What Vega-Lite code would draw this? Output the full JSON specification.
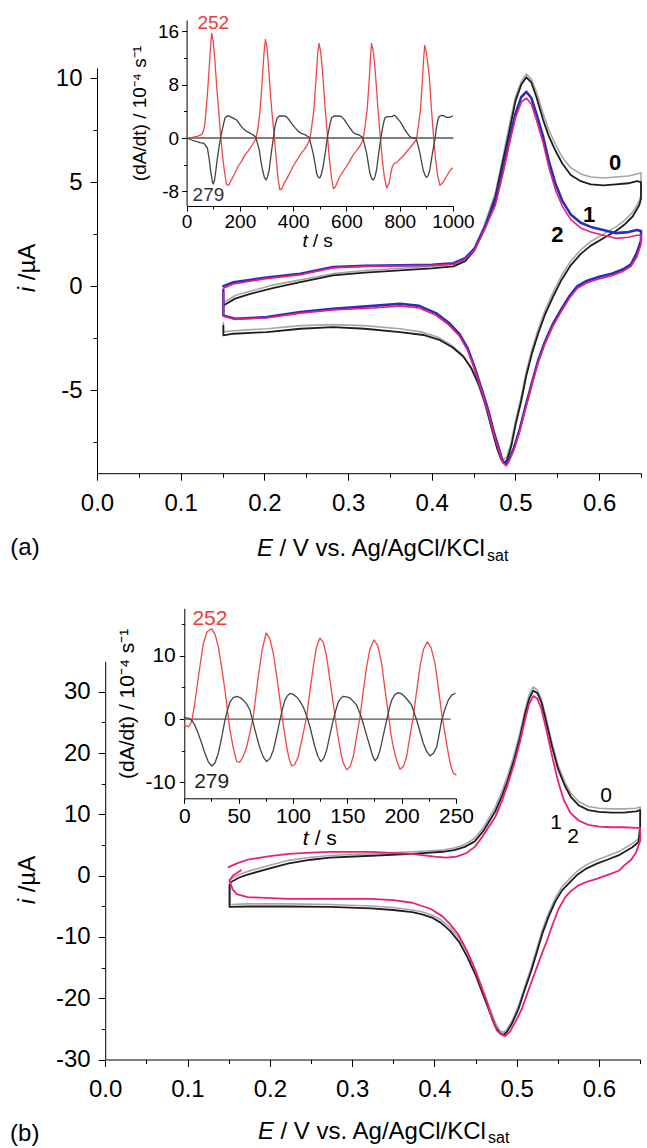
{
"$schema": "https://vega.github.io/schema/vega-lite/v6.json",
"width": 647, "height": 1148, "padding": 0, "autosize": {"type": "none"},
"background": "white",
"config": {"view": {"stroke": null}, "font": "Liberation Sans",
 "axis": {"grid": false, "domainColor": "#000", "tickColor": "#000", "labelColor": "#000", "titleColor": "#000", "labelFlush": false, "labelOverlap": false, "titleFontWeight": "normal", "domainWidth": 1, "tickWidth": 1},
 "line": {"strokeJoin": "round", "strokeCap": "round"}},
"datasets": {
"A0g": [{"E":0.151,"i":-0.8},{"E":0.165,"i":-0.45},{"E":0.183,"i":-0.25},{"E":0.21,"i":0.05},{"E":0.243,"i":0.3},{"E":0.282,"i":0.6},{"E":0.32,"i":0.75},{"E":0.362,"i":0.86},{"E":0.4,"i":0.95},{"E":0.426,"i":1.05},{"E":0.44,"i":1.3},{"E":0.451,"i":1.85},{"E":0.463,"i":2.95},{"E":0.476,"i":4.5},{"E":0.485,"i":6.2},{"E":0.493,"i":7.8},{"E":0.5,"i":9.1},{"E":0.507,"i":9.85},{"E":0.513,"i":10.2},{"E":0.519,"i":9.95},{"E":0.525,"i":9.35},{"E":0.533,"i":8.3},{"E":0.54,"i":7.5},{"E":0.548,"i":6.8},{"E":0.556,"i":6.2},{"E":0.566,"i":5.7},{"E":0.578,"i":5.4},{"E":0.59,"i":5.25},{"E":0.605,"i":5.2},{"E":0.62,"i":5.25},{"E":0.635,"i":5.3},{"E":0.645,"i":5.4},{"E":0.65,"i":5.45},{"E":0.65,"i":4.4},{"E":0.648,"i":4.1},{"E":0.64,"i":3.55},{"E":0.63,"i":3.15},{"E":0.62,"i":2.85},{"E":0.605,"i":2.5},{"E":0.59,"i":2.15},{"E":0.578,"i":1.75},{"E":0.566,"i":1.2},{"E":0.555,"i":0.5},{"E":0.545,"i":-0.3},{"E":0.535,"i":-1.2},{"E":0.527,"i":-2.1},{"E":0.52,"i":-3.0},{"E":0.513,"i":-4.1},{"E":0.507,"i":-5.3},{"E":0.5,"i":-6.5},{"E":0.495,"i":-7.5},{"E":0.49,"i":-8.2},{"E":0.486,"i":-8.35},{"E":0.482,"i":-8.2},{"E":0.476,"i":-7.5},{"E":0.469,"i":-6.5},{"E":0.462,"i":-5.5},{"E":0.454,"i":-4.6},{"E":0.445,"i":-3.8},{"E":0.435,"i":-3.25},{"E":0.422,"i":-2.8},{"E":0.407,"i":-2.45},{"E":0.387,"i":-2.2},{"E":0.362,"i":-2.05},{"E":0.32,"i":-1.9},{"E":0.282,"i":-1.85},{"E":0.243,"i":-1.9},{"E":0.203,"i":-2.05},{"E":0.163,"i":-2.15},{"E":0.151,"i":-2.2},{"E":0.151,"i":-1.75}],
"A0": [{"E":0.151,"i":-0.93},{"E":0.165,"i":-0.6},{"E":0.183,"i":-0.37},{"E":0.21,"i":-0.1},{"E":0.243,"i":0.19},{"E":0.282,"i":0.52},{"E":0.32,"i":0.65},{"E":0.362,"i":0.76},{"E":0.4,"i":0.85},{"E":0.426,"i":0.95},{"E":0.44,"i":1.2},{"E":0.451,"i":1.72},{"E":0.463,"i":2.8},{"E":0.476,"i":4.3},{"E":0.485,"i":6.0},{"E":0.493,"i":7.5},{"E":0.5,"i":8.9},{"E":0.507,"i":9.7},{"E":0.513,"i":10.05},{"E":0.519,"i":9.8},{"E":0.525,"i":9.1},{"E":0.533,"i":8.0},{"E":0.54,"i":7.2},{"E":0.548,"i":6.5},{"E":0.556,"i":5.9},{"E":0.566,"i":5.35},{"E":0.578,"i":5.05},{"E":0.59,"i":4.9},{"E":0.605,"i":4.85},{"E":0.62,"i":4.9},{"E":0.635,"i":4.95},{"E":0.645,"i":5.05},{"E":0.65,"i":5.0},{"E":0.65,"i":4.2},{"E":0.648,"i":3.9},{"E":0.64,"i":3.35},{"E":0.63,"i":2.95},{"E":0.62,"i":2.65},{"E":0.605,"i":2.3},{"E":0.59,"i":1.95},{"E":0.578,"i":1.55},{"E":0.566,"i":1.0},{"E":0.555,"i":0.3},{"E":0.545,"i":-0.5},{"E":0.535,"i":-1.4},{"E":0.527,"i":-2.3},{"E":0.52,"i":-3.2},{"E":0.513,"i":-4.3},{"E":0.507,"i":-5.5},{"E":0.5,"i":-6.7},{"E":0.495,"i":-7.7},{"E":0.49,"i":-8.35},{"E":0.487,"i":-8.5},{"E":0.483,"i":-8.35},{"E":0.478,"i":-7.8},{"E":0.472,"i":-6.9},{"E":0.465,"i":-5.8},{"E":0.457,"i":-4.8},{"E":0.448,"i":-4.0},{"E":0.438,"i":-3.4},{"E":0.425,"i":-2.95},{"E":0.41,"i":-2.6},{"E":0.39,"i":-2.35},{"E":0.362,"i":-2.21},{"E":0.32,"i":-2.05},{"E":0.282,"i":-1.97},{"E":0.243,"i":-2.05},{"E":0.203,"i":-2.21},{"E":0.163,"i":-2.29},{"E":0.151,"i":-2.37},{"E":0.151,"i":-1.9}],
"A1": [{"E":0.151,"i":0.0},{"E":0.163,"i":0.19},{"E":0.2,"i":0.4},{"E":0.243,"i":0.6},{"E":0.282,"i":0.92},{"E":0.32,"i":0.98},{"E":0.362,"i":1.0},{"E":0.4,"i":1.03},{"E":0.426,"i":1.1},{"E":0.44,"i":1.35},{"E":0.451,"i":1.8},{"E":0.463,"i":2.8},{"E":0.476,"i":4.1},{"E":0.485,"i":5.6},{"E":0.493,"i":7.1},{"E":0.5,"i":8.3},{"E":0.507,"i":9.1},{"E":0.513,"i":9.35},{"E":0.519,"i":9.05},{"E":0.525,"i":8.3},{"E":0.533,"i":7.2},{"E":0.54,"i":6.0},{"E":0.548,"i":4.9},{"E":0.556,"i":4.1},{"E":0.566,"i":3.45},{"E":0.578,"i":3.05},{"E":0.59,"i":2.85},{"E":0.605,"i":2.7},{"E":0.62,"i":2.55},{"E":0.635,"i":2.6},{"E":0.645,"i":2.7},{"E":0.65,"i":2.65},{"E":0.65,"i":2.2},{"E":0.645,"i":1.6},{"E":0.638,"i":1.05},{"E":0.628,"i":0.8},{"E":0.615,"i":0.6},{"E":0.6,"i":0.45},{"E":0.585,"i":0.25},{"E":0.574,"i":0.0},{"E":0.565,"i":-0.45},{"E":0.555,"i":-1.1},{"E":0.545,"i":-1.8},{"E":0.535,"i":-2.7},{"E":0.527,"i":-3.6},{"E":0.52,"i":-4.6},{"E":0.512,"i":-5.8},{"E":0.505,"i":-6.9},{"E":0.498,"i":-7.8},{"E":0.492,"i":-8.35},{"E":0.489,"i":-8.55},{"E":0.485,"i":-8.45},{"E":0.48,"i":-7.8},{"E":0.474,"i":-7.0},{"E":0.467,"i":-5.9},{"E":0.46,"i":-5.0},{"E":0.452,"i":-4.0},{"E":0.443,"i":-3.0},{"E":0.433,"i":-2.3},{"E":0.42,"i":-1.75},{"E":0.405,"i":-1.3},{"E":0.385,"i":-0.95},{"E":0.362,"i":-0.85},{"E":0.33,"i":-0.95},{"E":0.282,"i":-1.09},{"E":0.243,"i":-1.25},{"E":0.203,"i":-1.49},{"E":0.165,"i":-1.57},{"E":0.151,"i":-1.41},{"E":0.151,"i":-0.2}],
"A2": [{"E":0.151,"i":-0.1},{"E":0.163,"i":0.1},{"E":0.2,"i":0.35},{"E":0.243,"i":0.55},{"E":0.282,"i":0.88},{"E":0.32,"i":0.95},{"E":0.362,"i":0.98},{"E":0.4,"i":1.0},{"E":0.426,"i":1.05},{"E":0.44,"i":1.3},{"E":0.451,"i":1.72},{"E":0.463,"i":2.7},{"E":0.476,"i":3.9},{"E":0.485,"i":5.4},{"E":0.493,"i":6.9},{"E":0.5,"i":8.1},{"E":0.507,"i":8.85},{"E":0.513,"i":9.05},{"E":0.519,"i":8.75},{"E":0.525,"i":8.0},{"E":0.533,"i":6.9},{"E":0.54,"i":5.7},{"E":0.548,"i":4.6},{"E":0.556,"i":3.85},{"E":0.566,"i":3.2},{"E":0.578,"i":2.8},{"E":0.59,"i":2.6},{"E":0.605,"i":2.45},{"E":0.62,"i":2.3},{"E":0.635,"i":2.35},{"E":0.645,"i":2.45},{"E":0.65,"i":2.45},{"E":0.65,"i":2.0},{"E":0.645,"i":1.4},{"E":0.638,"i":0.95},{"E":0.628,"i":0.7},{"E":0.615,"i":0.5},{"E":0.6,"i":0.35},{"E":0.585,"i":0.15},{"E":0.574,"i":-0.1},{"E":0.565,"i":-0.55},{"E":0.555,"i":-1.2},{"E":0.545,"i":-1.9},{"E":0.535,"i":-2.8},{"E":0.527,"i":-3.7},{"E":0.52,"i":-4.7},{"E":0.512,"i":-5.9},{"E":0.505,"i":-7.0},{"E":0.498,"i":-7.9},{"E":0.492,"i":-8.45},{"E":0.489,"i":-8.65},{"E":0.485,"i":-8.5},{"E":0.48,"i":-7.9},{"E":0.474,"i":-7.1},{"E":0.467,"i":-6.0},{"E":0.46,"i":-5.1},{"E":0.452,"i":-4.1},{"E":0.443,"i":-3.1},{"E":0.433,"i":-2.4},{"E":0.42,"i":-1.85},{"E":0.405,"i":-1.4},{"E":0.385,"i":-1.05},{"E":0.362,"i":-0.95},{"E":0.33,"i":-1.05},{"E":0.282,"i":-1.15},{"E":0.243,"i":-1.3},{"E":0.203,"i":-1.52},{"E":0.165,"i":-1.6},{"E":0.151,"i":-1.45},{"E":0.151,"i":-0.3}],
"B0g": [{"E":0.152,"i":-0.6},{"E":0.163,"i":0.2},{"E":0.173,"i":0.7},{"E":0.2,"i":1.7},{"E":0.223,"i":2.5},{"E":0.25,"i":3.0},{"E":0.273,"i":3.3},{"E":0.323,"i":3.6},{"E":0.373,"i":3.9},{"E":0.41,"i":4.2},{"E":0.424,"i":4.5},{"E":0.437,"i":5.1},{"E":0.449,"i":6.1},{"E":0.46,"i":8.0},{"E":0.474,"i":11.2},{"E":0.482,"i":13.8},{"E":0.489,"i":16.3},{"E":0.497,"i":19.8},{"E":0.504,"i":23.4},{"E":0.51,"i":27.0},{"E":0.515,"i":29.5},{"E":0.52,"i":30.8},{"E":0.525,"i":30.3},{"E":0.53,"i":28.8},{"E":0.536,"i":25.6},{"E":0.543,"i":21.6},{"E":0.55,"i":18.1},{"E":0.558,"i":15.4},{"E":0.566,"i":13.4},{"E":0.575,"i":12.1},{"E":0.587,"i":11.3},{"E":0.6,"i":11.0},{"E":0.615,"i":10.9},{"E":0.63,"i":10.9},{"E":0.645,"i":11.0},{"E":0.65,"i":11.2},{"E":0.65,"i":8.5},{"E":0.648,"i":6.0},{"E":0.64,"i":5.2},{"E":0.625,"i":4.0},{"E":0.61,"i":3.2},{"E":0.598,"i":2.6},{"E":0.585,"i":1.8},{"E":0.574,"i":0.8},{"E":0.565,"i":-0.4},{"E":0.555,"i":-1.8},{"E":0.547,"i":-3.6},{"E":0.539,"i":-6.0},{"E":0.531,"i":-8.9},{"E":0.524,"i":-12.1},{"E":0.517,"i":-15.2},{"E":0.509,"i":-18.4},{"E":0.502,"i":-21.3},{"E":0.494,"i":-23.8},{"E":0.488,"i":-25.1},{"E":0.484,"i":-25.6},{"E":0.479,"i":-25.2},{"E":0.474,"i":-24.0},{"E":0.467,"i":-21.5},{"E":0.459,"i":-18.6},{"E":0.45,"i":-15.4},{"E":0.44,"i":-12.6},{"E":0.43,"i":-10.2},{"E":0.419,"i":-8.5},{"E":0.408,"i":-7.2},{"E":0.398,"i":-6.5},{"E":0.385,"i":-5.9},{"E":0.373,"i":-5.6},{"E":0.35,"i":-5.2},{"E":0.323,"i":-4.95},{"E":0.273,"i":-4.7},{"E":0.223,"i":-4.6},{"E":0.173,"i":-4.6},{"E":0.152,"i":-4.7},{"E":0.152,"i":-1.2}],
"B0": [{"E":0.153,"i":-1.04},{"E":0.163,"i":-0.3},{"E":0.173,"i":0.18},{"E":0.2,"i":1.2},{"E":0.223,"i":2.0},{"E":0.25,"i":2.6},{"E":0.273,"i":2.94},{"E":0.323,"i":3.25},{"E":0.373,"i":3.56},{"E":0.41,"i":3.9},{"E":0.424,"i":4.17},{"E":0.437,"i":4.7},{"E":0.449,"i":5.6},{"E":0.46,"i":7.4},{"E":0.474,"i":10.5},{"E":0.482,"i":13.0},{"E":0.489,"i":15.5},{"E":0.497,"i":19.0},{"E":0.504,"i":22.6},{"E":0.51,"i":26.3},{"E":0.515,"i":28.8},{"E":0.52,"i":30.2},{"E":0.525,"i":29.8},{"E":0.53,"i":28.3},{"E":0.536,"i":25.0},{"E":0.543,"i":21.0},{"E":0.55,"i":17.5},{"E":0.558,"i":14.8},{"E":0.566,"i":12.8},{"E":0.575,"i":11.5},{"E":0.587,"i":10.7},{"E":0.6,"i":10.4},{"E":0.615,"i":10.3},{"E":0.63,"i":10.3},{"E":0.645,"i":10.5},{"E":0.65,"i":10.7},{"E":0.65,"i":8.0},{"E":0.648,"i":5.5},{"E":0.64,"i":4.6},{"E":0.625,"i":3.4},{"E":0.61,"i":2.6},{"E":0.598,"i":2.0},{"E":0.585,"i":1.2},{"E":0.574,"i":0.2},{"E":0.565,"i":-1.0},{"E":0.555,"i":-2.4},{"E":0.547,"i":-4.2},{"E":0.539,"i":-6.6},{"E":0.531,"i":-9.5},{"E":0.524,"i":-12.7},{"E":0.517,"i":-15.8},{"E":0.509,"i":-18.9},{"E":0.502,"i":-21.8},{"E":0.494,"i":-24.2},{"E":0.488,"i":-25.5},{"E":0.484,"i":-26.0},{"E":0.479,"i":-25.6},{"E":0.474,"i":-24.6},{"E":0.467,"i":-22.2},{"E":0.459,"i":-19.4},{"E":0.45,"i":-16.2},{"E":0.44,"i":-13.3},{"E":0.43,"i":-10.8},{"E":0.419,"i":-9.0},{"E":0.408,"i":-7.7},{"E":0.398,"i":-6.9},{"E":0.385,"i":-6.3},{"E":0.373,"i":-5.95},{"E":0.35,"i":-5.6},{"E":0.323,"i":-5.34},{"E":0.273,"i":-5.1},{"E":0.223,"i":-5.03},{"E":0.173,"i":-5.03},{"E":0.151,"i":-5.1},{"E":0.151,"i":-1.5}],
"B2": [{"E":0.15,"i":1.4},{"E":0.16,"i":2.0},{"E":0.173,"i":2.6},{"E":0.2,"i":3.2},{"E":0.223,"i":3.56},{"E":0.25,"i":3.75},{"E":0.273,"i":3.87},{"E":0.323,"i":3.87},{"E":0.373,"i":3.56},{"E":0.4,"i":3.1},{"E":0.414,"i":2.94},{"E":0.427,"i":3.1},{"E":0.439,"i":3.7},{"E":0.449,"i":4.7},{"E":0.459,"i":6.5},{"E":0.474,"i":9.6},{"E":0.482,"i":12.2},{"E":0.489,"i":14.9},{"E":0.497,"i":18.3},{"E":0.504,"i":21.9},{"E":0.51,"i":25.4},{"E":0.515,"i":28.0},{"E":0.52,"i":29.3},{"E":0.525,"i":28.9},{"E":0.53,"i":27.2},{"E":0.536,"i":23.8},{"E":0.543,"i":19.5},{"E":0.55,"i":15.5},{"E":0.557,"i":12.4},{"E":0.565,"i":10.3},{"E":0.575,"i":9.0},{"E":0.587,"i":8.3},{"E":0.6,"i":8.0},{"E":0.615,"i":7.9},{"E":0.63,"i":7.9},{"E":0.645,"i":7.8},{"E":0.65,"i":7.8},{"E":0.65,"i":5.7},{"E":0.645,"i":3.8},{"E":0.639,"i":2.6},{"E":0.63,"i":1.6},{"E":0.624,"i":0.8},{"E":0.61,"i":0.1},{"E":0.599,"i":-0.43},{"E":0.585,"i":-1.0},{"E":0.574,"i":-1.66},{"E":0.566,"i":-2.5},{"E":0.559,"i":-3.5},{"E":0.551,"i":-5.4},{"E":0.544,"i":-7.8},{"E":0.537,"i":-10.5},{"E":0.529,"i":-13.3},{"E":0.521,"i":-16.2},{"E":0.514,"i":-18.8},{"E":0.506,"i":-21.8},{"E":0.499,"i":-23.7},{"E":0.492,"i":-25.4},{"E":0.486,"i":-26.2},{"E":0.481,"i":-25.9},{"E":0.476,"i":-25.3},{"E":0.47,"i":-23.4},{"E":0.464,"i":-20.7},{"E":0.456,"i":-17.8},{"E":0.449,"i":-15.2},{"E":0.44,"i":-12.4},{"E":0.429,"i":-9.6},{"E":0.419,"i":-7.9},{"E":0.409,"i":-6.56},{"E":0.395,"i":-5.4},{"E":0.373,"i":-4.42},{"E":0.35,"i":-4.0},{"E":0.323,"i":-3.8},{"E":0.273,"i":-3.8},{"E":0.223,"i":-3.8},{"E":0.173,"i":-3.5},{"E":0.16,"i":-3.0},{"E":0.155,"i":-2.27},{"E":0.151,"i":-0.8},{"E":0.155,"i":0.0},{"E":0.165,"i":0.9}],
"IAr": [{"t":0,"v":0},{"t":20,"v":0.1},{"t":40,"v":0.25},{"t":56,"v":0.5},{"t":63,"v":1.0},{"t":69,"v":2.2},{"t":75,"v":5.0},{"t":81,"v":8.2},{"t":88,"v":12.5},{"t":94,"v":15.7},{"t":100,"v":14.5},{"t":106,"v":11.7},{"t":114,"v":7.2},{"t":122,"v":3.2},{"t":128,"v":0.2},{"t":135,"v":-2.7},{"t":142,"v":-5.0},{"t":150,"v":-7.0},{"t":158,"v":-7.1},{"t":169,"v":-6.2},{"t":180,"v":-5.4},{"t":194,"v":-4.2},{"t":206,"v":-3.5},{"t":219,"v":-2.5},{"t":232,"v":-1.9},{"t":244,"v":-1.2},{"t":252,"v":-0.7},{"t":260,"v":-0.1},{"t":268,"v":1.5},{"t":275,"v":3.8},{"t":283,"v":8.0},{"t":290,"v":12.5},{"t":296,"v":14.8},{"t":302,"v":13.5},{"t":308,"v":10.5},{"t":313,"v":7.5},{"t":320,"v":4.0},{"t":328,"v":0.7},{"t":336,"v":-3.0},{"t":343,"v":-6.0},{"t":350,"v":-7.8},{"t":358,"v":-7.6},{"t":366,"v":-6.8},{"t":375,"v":-6.2},{"t":388,"v":-5.2},{"t":400,"v":-4.2},{"t":416,"v":-3.2},{"t":432,"v":-2.2},{"t":442,"v":-1.7},{"t":451,"v":-1.2},{"t":458,"v":-0.6},{"t":463,"v":-0.1},{"t":470,"v":1.8},{"t":478,"v":4.3},{"t":486,"v":9.0},{"t":492,"v":12.6},{"t":497,"v":14.2},{"t":503,"v":13.0},{"t":508,"v":11.0},{"t":513,"v":8.5},{"t":520,"v":4.5},{"t":528,"v":0.7},{"t":536,"v":-3.2},{"t":544,"v":-6.0},{"t":551,"v":-7.6},{"t":558,"v":-7.4},{"t":566,"v":-6.6},{"t":576,"v":-5.7},{"t":588,"v":-5.0},{"t":601,"v":-4.2},{"t":613,"v":-3.4},{"t":626,"v":-2.5},{"t":638,"v":-1.9},{"t":651,"v":-1.2},{"t":658,"v":-0.6},{"t":663,"v":-0.1},{"t":670,"v":1.8},{"t":678,"v":4.3},{"t":686,"v":9.0},{"t":690,"v":12.0},{"t":694,"v":14.2},{"t":700,"v":13.2},{"t":706,"v":11.0},{"t":711,"v":8.5},{"t":718,"v":4.5},{"t":726,"v":0.7},{"t":734,"v":-3.0},{"t":742,"v":-5.8},{"t":751,"v":-7.5},{"t":760,"v":-6.8},{"t":766,"v":-5.4},{"t":773,"v":-4.2},{"t":780,"v":-3.8},{"t":788,"v":-3.7},{"t":800,"v":-3.2},{"t":813,"v":-2.7},{"t":825,"v":-2.1},{"t":838,"v":-1.5},{"t":850,"v":-0.9},{"t":863,"v":-0.2},{"t":870,"v":1.8},{"t":878,"v":4.3},{"t":885,"v":8.5},{"t":890,"v":12.0},{"t":894,"v":13.9},{"t":900,"v":12.8},{"t":906,"v":11.0},{"t":911,"v":9.2},{"t":918,"v":5.0},{"t":926,"v":0.7},{"t":934,"v":-3.0},{"t":942,"v":-5.5},{"t":951,"v":-7.1},{"t":960,"v":-6.8},{"t":968,"v":-6.3},{"t":976,"v":-5.7},{"t":987,"v":-5.0},{"t":998,"v":-4.5}],
"IAk": [{"t":0,"v":0},{"t":20,"v":-0.3},{"t":50,"v":-0.7},{"t":65,"v":-0.8},{"t":78,"v":-1.5},{"t":85,"v":-3.2},{"t":91,"v":-5.2},{"t":97,"v":-6.6},{"t":100,"v":-6.9},{"t":105,"v":-6.3},{"t":110,"v":-4.8},{"t":115,"v":-3.2},{"t":123,"v":-1.0},{"t":131,"v":0.7},{"t":138,"v":2.0},{"t":144,"v":3.0},{"t":152,"v":3.3},{"t":160,"v":3.3},{"t":169,"v":3.1},{"t":178,"v":2.9},{"t":188,"v":2.7},{"t":197,"v":2.2},{"t":206,"v":1.7},{"t":215,"v":1.3},{"t":225,"v":1.0},{"t":235,"v":0.8},{"t":244,"v":0.6},{"t":252,"v":0.4},{"t":260,"v":0.1},{"t":266,"v":-0.8},{"t":273,"v":-1.8},{"t":279,"v":-3.5},{"t":285,"v":-4.8},{"t":292,"v":-5.9},{"t":298,"v":-6.3},{"t":304,"v":-5.8},{"t":310,"v":-4.8},{"t":317,"v":-2.5},{"t":325,"v":-0.2},{"t":332,"v":1.8},{"t":340,"v":3.0},{"t":348,"v":3.3},{"t":356,"v":3.3},{"t":365,"v":3.3},{"t":375,"v":3.2},{"t":385,"v":2.7},{"t":394,"v":2.2},{"t":406,"v":1.6},{"t":419,"v":1.0},{"t":431,"v":0.7},{"t":444,"v":0.5},{"t":452,"v":0.3},{"t":460,"v":0.1},{"t":467,"v":-1.0},{"t":475,"v":-2.3},{"t":482,"v":-3.8},{"t":488,"v":-5.3},{"t":494,"v":-5.9},{"t":500,"v":-6.0},{"t":506,"v":-5.4},{"t":513,"v":-4.2},{"t":522,"v":-1.8},{"t":531,"v":0.7},{"t":538,"v":2.0},{"t":544,"v":3.0},{"t":553,"v":3.3},{"t":563,"v":3.3},{"t":572,"v":3.3},{"t":582,"v":3.2},{"t":591,"v":2.8},{"t":601,"v":2.2},{"t":613,"v":1.5},{"t":626,"v":0.8},{"t":635,"v":0.6},{"t":645,"v":0.5},{"t":653,"v":0.3},{"t":661,"v":0.1},{"t":668,"v":-1.0},{"t":676,"v":-2.3},{"t":682,"v":-3.8},{"t":688,"v":-5.3},{"t":695,"v":-6.1},{"t":701,"v":-6.3},{"t":707,"v":-5.8},{"t":713,"v":-4.8},{"t":722,"v":-2.0},{"t":732,"v":0.7},{"t":738,"v":2.0},{"t":744,"v":3.0},{"t":753,"v":3.2},{"t":763,"v":3.2},{"t":772,"v":3.2},{"t":778,"v":3.4},{"t":782,"v":3.4},{"t":790,"v":3.0},{"t":801,"v":2.5},{"t":810,"v":1.9},{"t":820,"v":1.2},{"t":829,"v":0.7},{"t":838,"v":0.2},{"t":850,"v":0.0},{"t":861,"v":0.0},{"t":868,"v":-1.0},{"t":876,"v":-2.3},{"t":882,"v":-3.6},{"t":888,"v":-4.8},{"t":895,"v":-5.6},{"t":901,"v":-5.9},{"t":907,"v":-5.6},{"t":913,"v":-4.8},{"t":922,"v":-2.5},{"t":932,"v":-0.2},{"t":938,"v":1.6},{"t":945,"v":3.0},{"t":951,"v":3.3},{"t":957,"v":3.4},{"t":967,"v":3.3},{"t":976,"v":3.1},{"t":987,"v":3.1},{"t":998,"v":3.3}],
"IAz": [{"t":0,"v":0},{"t":1000,"v":0}],
"IBr": [{"t":0,"v":-0.9},{"t":2,"v":-1.1},{"t":4,"v":-1.2},{"t":6.7,"v":-0.4},{"t":9,"v":1.8},{"t":11.3,"v":4.6},{"t":14.5,"v":8.5},{"t":17.5,"v":11.9},{"t":21,"v":13.8},{"t":25.2,"v":14.3},{"t":28.5,"v":13.3},{"t":31.3,"v":11.4},{"t":34.5,"v":8.0},{"t":37.4,"v":4.6},{"t":40,"v":1.0},{"t":42,"v":-1.7},{"t":45,"v":-4.5},{"t":48.2,"v":-6.7},{"t":51,"v":-6.8},{"t":54,"v":-6.0},{"t":57.4,"v":-4.4},{"t":60.5,"v":-2.0},{"t":63.5,"v":0.4},{"t":66,"v":3.9},{"t":68.1,"v":6.7},{"t":71.5,"v":10.8},{"t":75.2,"v":13.6},{"t":78.5,"v":12.8},{"t":81.9,"v":10.4},{"t":85,"v":6.8},{"t":88,"v":3.0},{"t":91,"v":-0.8},{"t":94.2,"v":-4.4},{"t":96.5,"v":-6.3},{"t":98.8,"v":-7.4},{"t":101.5,"v":-7.2},{"t":104.9,"v":-5.9},{"t":108.5,"v":-3.0},{"t":112.6,"v":0.4},{"t":115.5,"v":4.3},{"t":118.7,"v":8.3},{"t":121.5,"v":11.3},{"t":124.8,"v":12.8},{"t":128,"v":12.1},{"t":131,"v":9.8},{"t":134,"v":6.2},{"t":137,"v":2.5},{"t":140,"v":-1.2},{"t":143,"v":-4.4},{"t":146,"v":-6.8},{"t":149.4,"v":-8.0},{"t":152.5,"v":-7.5},{"t":155.5,"v":-5.9},{"t":158.5,"v":-2.8},{"t":161.7,"v":0.4},{"t":164.7,"v":4.5},{"t":167.8,"v":8.3},{"t":171,"v":11.2},{"t":174.5,"v":12.5},{"t":178,"v":11.6},{"t":181.6,"v":8.8},{"t":184.5,"v":4.9},{"t":187.7,"v":0.9},{"t":190,"v":-2.2},{"t":192.3,"v":-4.4},{"t":195.5,"v":-6.6},{"t":198.5,"v":-7.9},{"t":201.5,"v":-7.5},{"t":204.6,"v":-5.9},{"t":207.5,"v":-2.8},{"t":210.7,"v":0.4},{"t":213.8,"v":4.5},{"t":216.9,"v":8.3},{"t":220,"v":11.0},{"t":223.6,"v":12.2},{"t":227,"v":11.3},{"t":230.7,"v":8.8},{"t":233.8,"v":4.9},{"t":236.8,"v":0.9},{"t":240,"v":-2.4},{"t":242.9,"v":-5.4},{"t":245.5,"v":-7.6},{"t":247.5,"v":-8.5},{"t":250,"v":-8.8}],
"IBk": [{"t":0,"v":0.2},{"t":3,"v":0.2},{"t":6.7,"v":-0.15},{"t":9.8,"v":-1.0},{"t":12.9,"v":-2.3},{"t":16,"v":-3.8},{"t":19,"v":-5.4},{"t":22,"v":-6.7},{"t":25.2,"v":-7.4},{"t":28.3,"v":-6.9},{"t":31.3,"v":-5.4},{"t":34.4,"v":-2.9},{"t":37.4,"v":-0.15},{"t":39.7,"v":1.4},{"t":42,"v":2.7},{"t":45,"v":3.4},{"t":48.2,"v":3.6},{"t":51.3,"v":3.4},{"t":54.3,"v":3.0},{"t":57.4,"v":2.4},{"t":60.4,"v":1.4},{"t":62.7,"v":-0.1},{"t":65,"v":-1.7},{"t":67.3,"v":-3.2},{"t":69.6,"v":-4.6},{"t":72.7,"v":-6.0},{"t":75.8,"v":-6.7},{"t":78.9,"v":-6.2},{"t":81.9,"v":-4.9},{"t":85,"v":-2.6},{"t":88,"v":-0.15},{"t":90.3,"v":1.6},{"t":92.6,"v":3.0},{"t":94.9,"v":3.7},{"t":97.2,"v":4.05},{"t":100.3,"v":3.9},{"t":103.4,"v":3.5},{"t":106.5,"v":2.8},{"t":109.5,"v":1.9},{"t":112.6,"v":0.5},{"t":115.6,"v":-1.2},{"t":118,"v":-2.9},{"t":120.2,"v":-4.4},{"t":123,"v":-5.9},{"t":125.5,"v":-6.7},{"t":128.3,"v":-6.2},{"t":131,"v":-4.9},{"t":134,"v":-2.5},{"t":137,"v":-0.15},{"t":139.4,"v":1.4},{"t":141.7,"v":2.7},{"t":144,"v":3.3},{"t":146.3,"v":3.6},{"t":149.4,"v":3.5},{"t":152.5,"v":3.3},{"t":155.6,"v":2.8},{"t":158.6,"v":2.2},{"t":161.7,"v":0.9},{"t":164.7,"v":-0.7},{"t":167.8,"v":-2.6},{"t":170.9,"v":-4.4},{"t":173.2,"v":-5.8},{"t":175.5,"v":-6.6},{"t":177.8,"v":-6.1},{"t":180.1,"v":-4.9},{"t":183.2,"v":-2.5},{"t":186.2,"v":-0.15},{"t":188.5,"v":1.6},{"t":190.8,"v":3.0},{"t":193.9,"v":3.9},{"t":196.9,"v":4.2},{"t":200,"v":4.0},{"t":203.1,"v":3.5},{"t":206.1,"v":2.9},{"t":209.2,"v":2.2},{"t":211.5,"v":1.0},{"t":213.8,"v":-0.15},{"t":216.9,"v":-2.0},{"t":219.9,"v":-3.8},{"t":223,"v":-5.1},{"t":226.1,"v":-5.8},{"t":229.2,"v":-5.4},{"t":232.2,"v":-4.4},{"t":234.5,"v":-2.4},{"t":236.8,"v":-0.15},{"t":239.9,"v":1.6},{"t":242.9,"v":3.0},{"t":246,"v":3.8},{"t":249.1,"v":4.05}],
"IBz": [{"t":0,"v":0},{"t":244.5,"v":0}]
},
"layer": [
 {
  "encoding": {
   "x": {"field": "E", "type": "quantitative", "scale": {"domain": [0, 0.65], "range": [97, 641], "nice": false, "zero": false},
    "axis": {"orient": "bottom", "offset": -674.8, "title": null, "values": [0,0.05,0.1,0.15,0.2,0.25,0.3,0.35,0.4,0.45,0.5,0.55,0.6,0.65], "labelExpr": "round(datum.value*100) % 10 == 0 ? format(datum.value, '.1f') : ''", "tickSize": {"condition": {"test": "round(datum.value*100) % 10 != 0", "value": 4}, "value": 7}, "labelFontSize": 24, "labelPadding": 11}},
   "y": {"field": "i", "type": "quantitative", "scale": {"domain": [-9, 10.5], "range": [473.2, 67.9], "nice": false, "zero": false},
    "axis": {"orient": "left", "offset": -97, "title": null, "values": [-7.5,-5,-2.5,0,2.5,5,7.5,10], "labelExpr": "datum.value % 5 == 0 ? '' + datum.value : ''", "tickSize": {"condition": {"test": "datum.value % 5 != 0", "value": 4}, "value": 7}, "labelFontSize": 24, "labelPadding": 8}}
  },
  "layer": [
   {"data": {"name": "A0g"}, "mark": {"type": "line", "stroke": "#a6a6a6", "strokeWidth": 1.6}, "encoding": {"order": {"value": null}}},
   {"data": {"name": "A0"}, "mark": {"type": "line", "stroke": "#1e1e1e", "strokeWidth": 1.8}, "encoding": {"order": {"value": null}}},
   {"data": {"name": "A1"}, "mark": {"type": "line", "stroke": "#2d2dbd", "strokeWidth": 2.6}, "encoding": {"order": {"value": null}}},
   {"data": {"name": "A2"}, "mark": {"type": "line", "stroke": "#e8207c", "strokeWidth": 1.6}, "encoding": {"order": {"value": null}}},
   {"data": {"values": [{"E": 0.619, "i": 5.93, "lab": "0"}, {"E": 0.588, "i": 3.43, "lab": "1"}, {"E": 0.55, "i": 2.46, "lab": "2"}]},
    "mark": {"type": "text", "fontSize": 22, "fontWeight": "bold", "align": "center", "baseline": "middle", "color": "#000"}, "encoding": {"text": {"field": "lab"}}},
   {"data": {"values": [{"E": 0.2103, "i": -13.0, "lab": "E"}]}, "mark": {"type": "text", "fontSize": 24, "fontStyle": "italic", "align": "right", "baseline": "alphabetic", "color": "#000"}, "encoding": {"text": {"field": "lab"}}},
   {"data": {"values": [{"E": 0.2103, "i": -13.0, "lab": "/ V vs. Ag/AgCl/KCl"}]}, "mark": {"type": "text", "fontSize": 24, "align": "left", "baseline": "alphabetic", "dx": 6.5, "color": "#000"}, "encoding": {"text": {"field": "lab"}}},
   {"data": {"values": [{"E": 0.2103, "i": -13.0, "lab": "sat"}]}, "mark": {"type": "text", "fontSize": 16, "align": "left", "baseline": "alphabetic", "dx": 214, "dy": 5, "color": "#000"}, "encoding": {"text": {"field": "lab"}}},
   {"data": {"values": [{"E": -0.0824, "i": -0.04, "lab": "i"}]}, "mark": {"type": "text", "fontSize": 24, "fontStyle": "italic", "angle": 270, "align": "right", "baseline": "middle", "color": "#000"}, "encoding": {"text": {"field": "lab"}}},
   {"data": {"values": [{"E": -0.0824, "i": -0.04, "lab": "/µA"}]}, "mark": {"type": "text", "fontSize": 24, "angle": 270, "align": "left", "baseline": "middle", "dx": 6.7, "color": "#000"}, "encoding": {"text": {"field": "lab"}}},
   {"data": {"values": [{"E": -0.086, "i": -12.62, "lab": "(a)"}]}, "mark": {"type": "text", "fontSize": 24, "align": "center", "baseline": "middle", "color": "#000"}, "encoding": {"text": {"field": "lab"}}}
  ]
 },
 {
  "encoding": {
   "x": {"field": "t", "type": "quantitative", "scale": {"domain": [0, 1000], "range": [186.6, 453], "nice": false, "zero": false},
    "axis": {"orient": "bottom", "offset": -942, "title": null, "values": [0,100,200,300,400,500,600,700,800,900,1000], "labelExpr": "datum.value % 200 == 0 ? '' + datum.value : ''", "tickSize": {"condition": {"test": "datum.value % 200 != 0", "value": 3}, "value": 5}, "labelFontSize": 19, "labelPadding": 1}},
   "y": {"field": "v", "type": "quantitative", "scale": {"domain": [-10.2, 17.7], "range": [206, 20], "nice": false, "zero": false},
    "axis": {"orient": "left", "offset": -186.6, "title": "(dA/dt) / 10⁻⁴ s⁻¹", "titleFontSize": 19, "titlePadding": 8, "values": [-8,-4,0,4,8,12,16], "labelExpr": "datum.value % 8 == 0 ? '' + datum.value : ''", "tickSize": {"condition": {"test": "datum.value % 8 != 0", "value": 3}, "value": 5}, "labelFontSize": 19, "labelPadding": 3}}
  },
  "layer": [
   {"data": {"name": "IAz"}, "mark": {"type": "line", "stroke": "#555555", "strokeWidth": 1.4}, "encoding": {"order": {"value": null}}},
   {"data": {"name": "IAr"}, "mark": {"type": "line", "stroke": "#f04848", "strokeWidth": 1.3}, "encoding": {"order": {"value": null}}},
   {"data": {"name": "IAk"}, "mark": {"type": "line", "stroke": "#444444", "strokeWidth": 1.3}, "encoding": {"order": {"value": null}}},
   {"data": {"values": [{"t": 100, "v": 17.2, "lab": "252"}]}, "mark": {"type": "text", "fontSize": 19, "align": "center", "baseline": "middle", "color": "#ee3b3b"}, "encoding": {"text": {"field": "lab"}}},
   {"data": {"values": [{"t": 82, "v": -8.5, "lab": "279"}]}, "mark": {"type": "text", "fontSize": 19, "align": "center", "baseline": "middle", "color": "#333333"}, "encoding": {"text": {"field": "lab"}}},
   {"data": {"values": [{"t": 454.6, "v": -16.3, "lab": "t"}]}, "mark": {"type": "text", "fontSize": 19, "fontStyle": "italic", "align": "right", "baseline": "alphabetic", "color": "#000"}, "encoding": {"text": {"field": "lab"}}},
   {"data": {"values": [{"t": 454.6, "v": -16.3, "lab": "/ s"}]}, "mark": {"type": "text", "fontSize": 19, "align": "left", "baseline": "alphabetic", "dx": 5, "color": "#000"}, "encoding": {"text": {"field": "lab"}}}
  ]
 },
 {
  "encoding": {
   "x": {"field": "E", "type": "quantitative", "scale": {"domain": [0, 0.65], "range": [105.2, 640.2], "nice": false, "zero": false},
    "axis": {"orient": "bottom", "offset": -88.5, "title": null, "values": [0,0.05,0.1,0.15,0.2,0.25,0.3,0.35,0.4,0.45,0.5,0.55,0.6,0.65], "labelExpr": "round(datum.value*100) % 10 == 0 ? format(datum.value, '.1f') : ''", "tickSize": {"condition": {"test": "round(datum.value*100) % 10 != 0", "value": 4}, "value": 7}, "labelFontSize": 24, "labelPadding": 11}},
   "y": {"field": "i", "type": "quantitative", "scale": {"domain": [-30, 35], "range": [1059.5, 661.2], "nice": false, "zero": false},
    "axis": {"orient": "left", "offset": -105.2, "title": null, "values": [-30,-25,-20,-15,-10,-5,0,5,10,15,20,25,30], "labelExpr": "datum.value % 10 == 0 ? '' + datum.value : ''", "tickSize": {"condition": {"test": "datum.value % 10 != 0", "value": 4}, "value": 7}, "labelFontSize": 24, "labelPadding": 8}}
  },
  "layer": [
   {"data": {"name": "B0g"}, "mark": {"type": "line", "stroke": "#a6a6a6", "strokeWidth": 1.6}, "encoding": {"order": {"value": null}}},
   {"data": {"name": "B0"}, "mark": {"type": "line", "stroke": "#1e1e1e", "strokeWidth": 1.8}, "encoding": {"order": {"value": null}}},
   {"data": {"name": "B2"}, "mark": {"type": "line", "stroke": "#e8207c", "strokeWidth": 1.8}, "encoding": {"order": {"value": null}}},
   {"data": {"values": [{"E": 0.6085, "i": 13.0, "lab": "0"}, {"E": 0.5477, "i": 8.6, "lab": "1"}, {"E": 0.5685, "i": 6.3, "lab": "2"}]},
    "mark": {"type": "text", "fontSize": 21, "align": "center", "baseline": "middle", "color": "#000"}, "encoding": {"text": {"field": "lab"}}},
   {"data": {"values": [{"E": 0.2051, "i": -42.97, "lab": "E"}]}, "mark": {"type": "text", "fontSize": 24, "fontStyle": "italic", "align": "right", "baseline": "alphabetic", "color": "#000"}, "encoding": {"text": {"field": "lab"}}},
   {"data": {"values": [{"E": 0.2051, "i": -42.97, "lab": "/ V vs. Ag/AgCl/KCl"}]}, "mark": {"type": "text", "fontSize": 24, "align": "left", "baseline": "alphabetic", "dx": 6.5, "color": "#000"}, "encoding": {"text": {"field": "lab"}}},
   {"data": {"values": [{"E": 0.2051, "i": -42.97, "lab": "sat"}]}, "mark": {"type": "text", "fontSize": 16, "align": "left", "baseline": "alphabetic", "dx": 214, "dy": 4, "color": "#000"}, "encoding": {"text": {"field": "lab"}}},
   {"data": {"values": [{"E": -0.0938, "i": -3.81, "lab": "i"}]}, "mark": {"type": "text", "fontSize": 24, "fontStyle": "italic", "angle": 270, "align": "right", "baseline": "middle", "color": "#000"}, "encoding": {"text": {"field": "lab"}}},
   {"data": {"values": [{"E": -0.0938, "i": -3.81, "lab": "/µA"}]}, "mark": {"type": "text", "fontSize": 24, "angle": 270, "align": "left", "baseline": "middle", "dx": 6.7, "color": "#000"}, "encoding": {"text": {"field": "lab"}}},
   {"data": {"values": [{"E": -0.0977, "i": -42.16, "lab": "(b)"}]}, "mark": {"type": "text", "fontSize": 24, "align": "center", "baseline": "middle", "color": "#000"}, "encoding": {"text": {"field": "lab"}}}
  ]
 },
 {
  "encoding": {
   "x": {"field": "t", "type": "quantitative", "scale": {"domain": [0, 250], "range": [184.3, 456], "nice": false, "zero": false},
    "axis": {"orient": "bottom", "offset": -349.7, "title": null, "values": [0,25,50,75,100,125,150,175,200,225,250], "labelExpr": "datum.value % 50 == 0 ? '' + datum.value : ''", "tickSize": {"condition": {"test": "datum.value % 50 != 0", "value": 3}, "value": 5}, "labelFontSize": 21, "labelPadding": 2}},
   "y": {"field": "v", "type": "quantitative", "scale": {"domain": [-12.5, 17.5], "range": [798.3, 608.3], "nice": false, "zero": false},
    "axis": {"orient": "left", "offset": -184.3, "title": "(dA/dt) / 10⁻⁴ s⁻¹", "titleFontSize": 21, "titlePadding": 7, "values": [-10,-5,0,5,10,15], "labelExpr": "datum.value % 10 == 0 ? '' + datum.value : ''", "tickSize": {"condition": {"test": "datum.value % 10 != 0", "value": 3}, "value": 5}, "labelFontSize": 21, "labelPadding": 4}}
  },
  "layer": [
   {"data": {"name": "IBz"}, "mark": {"type": "line", "stroke": "#555555", "strokeWidth": 1.4}, "encoding": {"order": {"value": null}}},
   {"data": {"name": "IBr"}, "mark": {"type": "line", "stroke": "#f04848", "strokeWidth": 1.3}, "encoding": {"order": {"value": null}}},
   {"data": {"name": "IBk"}, "mark": {"type": "line", "stroke": "#444444", "strokeWidth": 1.3}, "encoding": {"order": {"value": null}}},
   {"data": {"values": [{"t": 23.6, "v": 15.8, "lab": "252"}]}, "mark": {"type": "text", "fontSize": 21, "align": "center", "baseline": "middle", "color": "#ee3b3b"}, "encoding": {"text": {"field": "lab"}}},
   {"data": {"values": [{"t": 25.2, "v": -9.9, "lab": "279"}]}, "mark": {"type": "text", "fontSize": 21, "align": "center", "baseline": "middle", "color": "#222222"}, "encoding": {"text": {"field": "lab"}}},
   {"data": {"values": [{"t": 114.4, "v": -19.87, "lab": "t"}]}, "mark": {"type": "text", "fontSize": 21, "fontStyle": "italic", "align": "right", "baseline": "alphabetic", "color": "#000"}, "encoding": {"text": {"field": "lab"}}},
   {"data": {"values": [{"t": 114.4, "v": -19.87, "lab": "/ s"}]}, "mark": {"type": "text", "fontSize": 21, "align": "left", "baseline": "alphabetic", "dx": 6, "color": "#000"}, "encoding": {"text": {"field": "lab"}}}
  ]
 }
],
"resolve": {"scale": {"x": "independent", "y": "independent"}, "axis": {"x": "independent", "y": "independent"}}
}
